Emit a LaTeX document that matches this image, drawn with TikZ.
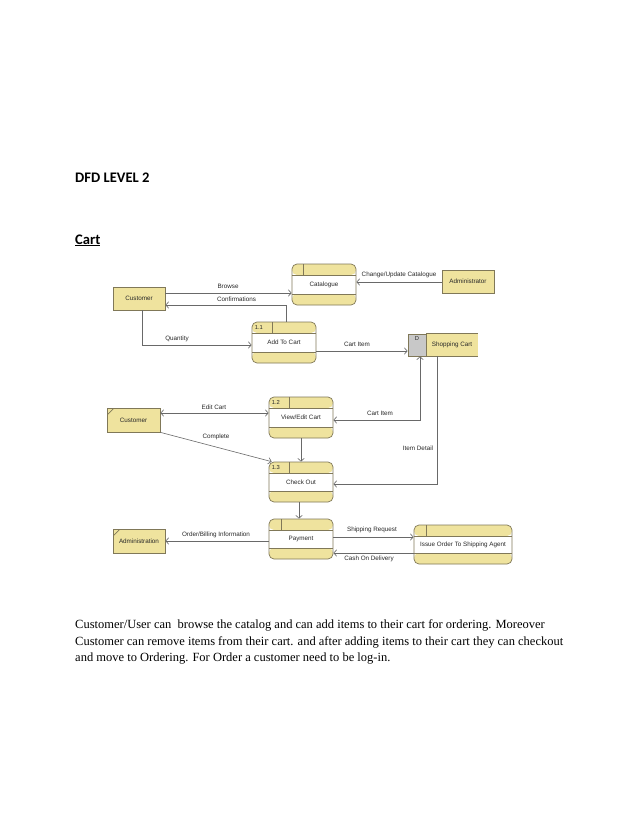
\documentclass[tikz,border=0pt]{standalone}
\usepackage{fontspec}
\usetikzlibrary{arrows.meta}
\newfontfamily\dfdsans{Liberation Sans}
\newfontfamily\dfdcalib{Carlito}
\newfontfamily\dfdserif{Liberation Serif}
\newcommand\dfdlbl{\dfdsans\fontsize{6.3}{7}\selectfont}
\definecolor{yel}{RGB}{239,227,158}
\definecolor{bordc}{RGB}{128,120,88}
\definecolor{linec}{RGB}{105,105,105}
\definecolor{storeg}{RGB}{200,200,200}
\definecolor{txtc}{RGB}{40,40,40}
\tikzset{
  proc/.style n args={3}{rounded corners=5pt, draw=bordc, line width=0.7pt, fill=white,
    inner sep=0pt, minimum width=#1, minimum height=#2, font=\dfdlbl, text=txtc,
    path picture={
      \fill[yel] (path picture bounding box.north west) rectangle ([yshift=-11pt]path picture bounding box.north east);
      \fill[yel] (path picture bounding box.south west) rectangle ([yshift=11pt]path picture bounding box.south east);
      \draw[bordc, line width=0.7pt] ([yshift=-11pt]path picture bounding box.north west) -- ([yshift=-11pt]path picture bounding box.north east);
      \draw[bordc, line width=0.7pt] ([yshift=11pt]path picture bounding box.south west) -- ([yshift=11pt]path picture bounding box.south east);
      \draw[bordc, line width=0.7pt] ([xshift=#3]path picture bounding box.north west) -- ([xshift=#3,yshift=-11pt]path picture bounding box.north west);
    }},
  ent/.style 2 args={draw=bordc, fill=yel, line width=0.7pt, minimum width=#1, minimum height=#2,
    inner sep=0pt, font=\dfdlbl, text=txtc},
  dup/.style={path picture={\draw[bordc, line width=0.7pt] ([yshift=-7pt]path picture bounding box.north west) -- ([xshift=7pt]path picture bounding box.north west);}},
  idlbl/.style={font=\dfdsans\fontsize{5.8}{6}\selectfont, text=txtc, inner sep=0pt, anchor=west},
  flbl/.style={font=\dfdlbl, text=txtc, inner sep=0pt},
  flow/.style={draw=linec, line width=0.6pt, -{Straight Barb[length=3pt,width=6.5pt]}},
  flowb/.style={draw=linec, line width=0.6pt, {Straight Barb[length=3pt,width=6.5pt]}-{Straight Barb[length=3pt,width=6.5pt]}},
}
\begin{document}
\begin{tikzpicture}[x=1pt,y=1pt]
\useasboundingbox[fill=white] (0,0) rectangle (638,-826);

% headings
\node[anchor=base west, inner sep=0pt, font=\dfdcalib\bfseries\fontsize{14.6}{16}\selectfont] (title) at (75,-183) {DFD LEVEL 2};
\node[anchor=base west, inner sep=0pt, font=\dfdcalib\bfseries\fontsize{14.6}{16}\selectfont] (cart) at (75,-244) {\underline{Cart}};

% entities
\node[ent={52pt}{23pt}] (c1) at (139,-298.5) {Customer};
\node[ent={52pt}{23pt}] (adm) at (468,-281.5) {Administrator};
\node[ent={53pt}{24pt}, dup] (c2) at (133.5,-420) {Customer};
\node[ent={52pt}{24pt}, dup] (admn) at (139,-541) {Administration};

% processes
\node[proc={64pt}{41pt}{11.5pt}] (cat) at (324,-284.5) {Catalogue};
\node[proc={64pt}{41pt}{20pt}] (p11) at (284,-342.5) {Add To Cart};
\node[idlbl] (p11id) at ([xshift=3pt,yshift=-5.5pt]p11.north west) {1.1};
\node[proc={64pt}{41pt}{20pt}] (p12) at (301,-417.5) {View/Edit Cart};
\node[idlbl] (p12id) at ([xshift=3pt,yshift=-5.5pt]p12.north west) {1.2};
\node[proc={64pt}{40pt}{20pt}] (p13) at (301,-482) {Check Out};
\node[idlbl] (p13id) at ([xshift=3pt,yshift=-5.5pt]p13.north west) {1.3};
\node[proc={64pt}{40pt}{12pt}] (pay) at (301,-539) {Payment};
\node[proc={98pt}{39pt}{12pt}] (iss) at (463,-544.5) {Issue Order To Shipping Agent};

% data store
\node[draw=bordc, fill=storeg, line width=0.7pt, minimum width=18pt, minimum height=22pt, inner sep=0pt] (scd) at (417,-345) {};
\node[idlbl, anchor=north] (scdid) at ([yshift=-3pt]scd.north) {D};
\node[fill=yel, minimum width=51pt, minimum height=22pt, inner sep=0pt, font=\dfdlbl, text=txtc, anchor=west] (sc) at (scd.east) {Shopping Cart};
\draw[bordc, line width=0.7pt] (sc.north west) -- (sc.north east);
\draw[bordc, line width=0.7pt] (sc.south west) -- (sc.south east);

% flows
\draw[flow] (c1.east |- 0,-293) -- (cat.west |- 0,-293);
\node[flbl] (lbrowse) at (228,-286) {Browse};
\draw[flow] ([xshift=2pt]p11.north) |- (c1.east |- 0,-305);
\node[flbl] (lconf) at (236.5,-299) {Confirmations};
\draw[flow] ([xshift=3pt]c1.south) |- (p11.west |- 0,-345);
\node[flbl] (lqty) at (177,-339) {Quantity};
\draw[flow] (adm.west |- 0,-282) -- (cat.east |- 0,-282);
\node[flbl] (lchg) at (399,-275) {Change/Update Catalogue};
\draw[flow] (p11.east |- 0,-351) -- (scd.west |- 0,-351);
\node[flbl] (lci1) at (357,-344) {Cart Item};
\draw[flowb] (420,0 |- scd.south) |- (p12.east |- 0,-420);
\node[flbl] (lci2) at (380,-413) {Cart Item};
\draw[flow] (437,0 |- sc.south) |- (p13.east |- 0,-484);
\node[flbl] (lid) at (418,-448) {Item Detail};
\draw[flowb] (c2.east |- 0,-413) -- (p12.west |- 0,-413);
\node[flbl] (ledit) at (214,-407) {Edit Cart};
\draw[flow] (c2.south east) -- ([xshift=3pt]p13.north west);
\node[flbl] (lcomp) at (216,-437) {Complete};
\draw[flow] (p12.south) -- (p13.north);
\draw[flow] ([xshift=-2pt]p13.south) -- ([xshift=-2pt]pay.north);
\draw[flow] (pay.west |- 0,-541) -- (admn.east |- 0,-541);
\node[flbl] (lord) at (216,-535) {Order/Billing Information};
\draw[flow] (pay.east |- 0,-537) -- (iss.west |- 0,-537);
\node[flbl] (lship) at (372,-529.5) {Shipping Request};
\draw[flow] (iss.west |- 0,-553) -- (pay.east |- 0,-553);
\node[flbl] (lcash) at (369,-558.5) {Cash On Delivery};

% paragraph
\node[anchor=base west, inner sep=0pt, font=\dfdserif\fontsize{12.5}{14}\selectfont] (para1) at (75,-628.5) {Customer/User can\ \ browse the catalog and can add items to their cart for ordering. Moreover};
\node[anchor=base west, inner sep=0pt, font=\dfdserif\fontsize{12.5}{14}\selectfont] (para2) at (75,-645) {Customer can remove items from their cart. and after adding items to their cart they can checkout};
\node[anchor=base west, inner sep=0pt, font=\dfdserif\fontsize{12.5}{14}\selectfont] (para3) at (75,-661.5) {and move to Ordering. For Order a customer need to be log-in.};
\end{tikzpicture}
\end{document}
